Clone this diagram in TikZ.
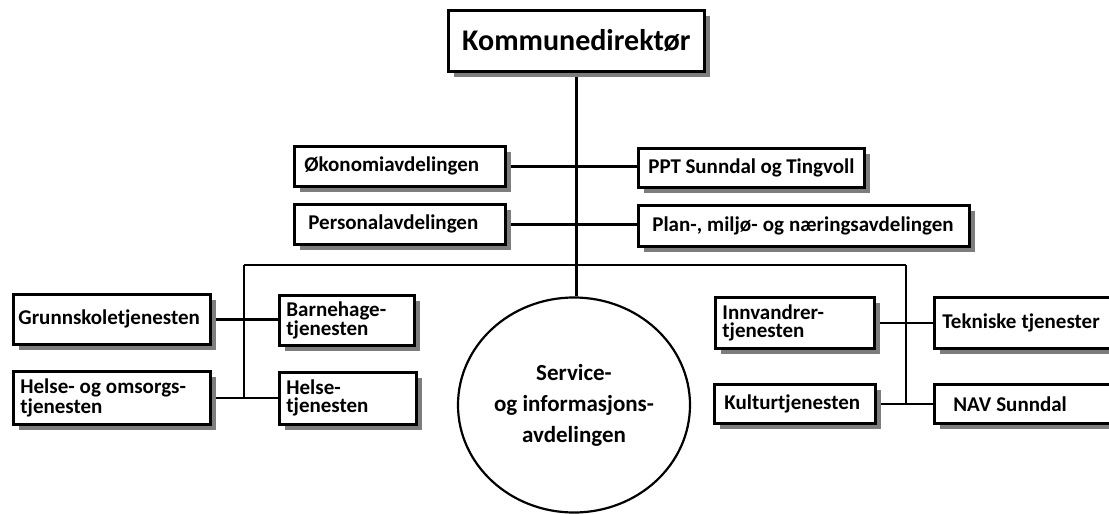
\documentclass[tikz,border=0pt]{standalone}
\usepackage{fontspec}
\setmainfont{Carlito}
\usetikzlibrary{shapes.geometric,shadows,backgrounds}
\definecolor{ShadowClr}{RGB}{125,125,125}
\definecolor{LineClr}{RGB}{0,0,0}

\begin{document}
\begin{tikzpicture}[x=1pt,y=-1pt,
  unit/.style={draw=LineClr,line width=2.8pt,fill=white,anchor=north west,
    align=left,inner ysep=0pt,font=\bfseries\fontsize{21}{18}\selectfont,
    execute at begin node={\spaceskip=5pt plus 2pt minus 1pt},
    drop shadow={shadow xshift=6pt,shadow yshift=-6pt,fill=ShadowClr,opacity=1}},
  link/.style={draw=LineClr,line width=2.8pt}]
\useasboundingbox (0,0) rectangle (1109,514);

% top level
\node[unit,align=center,inner xsep=0pt,minimum width=256pt,minimum height=61pt,
  font=\bfseries\fontsize{30}{30}\selectfont] (kommune) at (447,9) {Kommunedirektør};

\node[unit,inner xsep=10pt,text width=191pt,minimum height=40pt] (okonomi) at (293,145) {Økonomiavdelingen};
\node[unit,inner xsep=14pt,text width=183pt,minimum height=40pt] (personal) at (293,203) {Personalavdelingen};
\node[unit,inner xsep=10pt,text width=206pt,minimum height=39pt] (ppt) at (637,147) {PPT Sunndal og Tingvoll};
\node[unit,inner xsep=14pt,text width=303pt,minimum height=41pt] (plan) at (637,204) {Plan-, miljø- og næringsavdelingen};

% left group
\node[unit,inner xsep=5pt,text width=187pt,minimum height=50pt] (grunnskole) at (12,293) {Grunnskoletjenesten};
\node[unit,inner xsep=7pt,text width=121pt,minimum height=50pt] (barnehage) at (278,294) {Barnehage-\\tjenesten};
\node[unit,inner xsep=7pt,text width=183pt,minimum height=53pt] (helseog) at (12,370) {Helse- og omsorgs-\\tjenesten};
\node[unit,inner xsep=7pt,text width=123pt,minimum height=52pt] (helsetj) at (278,371) {Helse-\\tjenesten};

% right group
\node[unit,inner xsep=7pt,text width=145pt,minimum height=51pt] (innvandrer) at (714,296) {Innvandrer-\\tjenesten};
\node[unit,inner xsep=8pt,text width=171pt,minimum height=51pt] (tekniske) at (933,296) {Tekniske tjenester};
\node[unit,inner xsep=10pt,text width=141pt,minimum height=39pt] (kultur) at (713,383) {Kulturtjenesten};
\node[unit,inner xsep=19pt,text width=149pt,minimum height=39pt] (nav) at (933,383) {NAV Sunndal};

\node[draw=LineClr,ellipse,line width=2.2pt,fill=white,minimum width=232pt,minimum height=215pt,
  inner sep=0pt,align=center,font=\bfseries\fontsize{23}{31}\selectfont] (service) at (574,405)
  {Service-\\og informasjons-\\avdelingen};

\coordinate (busL) at (244,265);
\coordinate (busR) at (906,265);

\begin{scope}[on background layer]
\draw[link] (kommune.south) -- (kommune.south |- service.north);
\draw[link] (okonomi.east) -- (okonomi.east -| ppt.west);
\draw[link] (personal.east) -- (personal.east -| plan.west);
\draw[link] (busL) -- (busR);
\draw[link] (busL) -- (busL |- helseog.east);
\draw[link] (grunnskole.east) -- (grunnskole.east -| barnehage.west);
\draw[link] (helseog.east) -- (helseog.east -| helsetj.west);
\draw[link] (busR) -- (busR |- kultur.east);
\draw[link] (innvandrer.east) -- (innvandrer.east -| tekniske.west);
\draw[link] (kultur.east) -- (kultur.east -| nav.west);
\end{scope}

\end{tikzpicture}
\end{document}
